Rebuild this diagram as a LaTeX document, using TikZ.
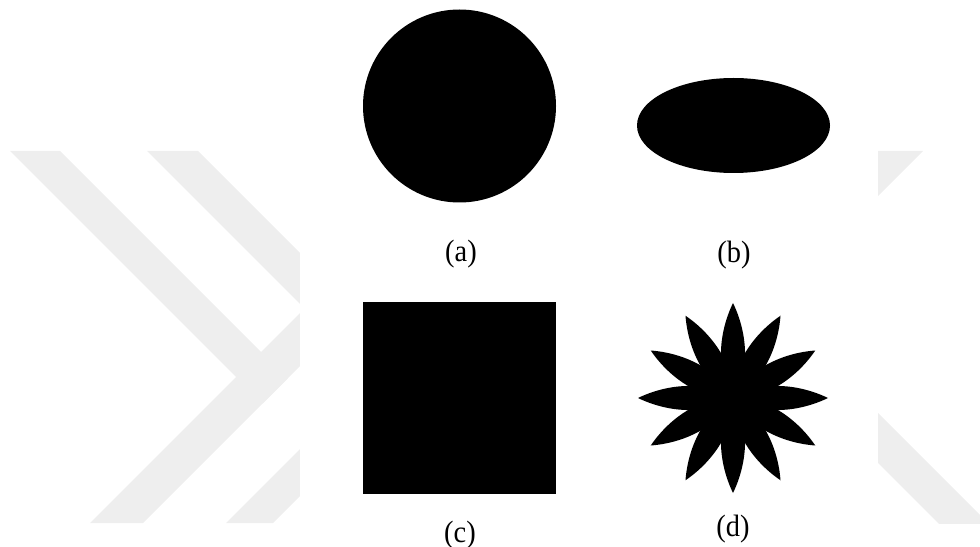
\documentclass[tikz,border=0pt]{standalone}
\usepackage{fontspec}
\setmainfont{Liberation Serif}
\definecolor{wm}{RGB}{238,238,238}
\tikzset{
  lbl/.style={anchor=base, inner sep=0pt, xscale=0.92, transform shape, font=\fontsize{31}{36}\selectfont},
  solid shape/.style={fill=black},
  band/.style={fill=wm}
}
\begin{document}
\begin{tikzpicture}[x=1bp,y=-1bp]
\useasboundingbox (0,0) rectangle (980,547);
% watermark bands
\begin{scope}
  \clip (0,151) rectangle (980,523);
  \fill[band] (10,151) -- (60,151) -- (287.5,378.5) -- (262.5,403.5) -- cycle;
  \fill[band] (90,523) -- (143,523) -- (320,346) -- (320,293) -- cycle;
  \fill[band] (147,151) -- (198,151) -- (320,273) -- (320,324) -- cycle;
  \fill[band] (226,523) -- (273,523) -- (320,476) -- (320,429) -- cycle;
  \fill[band] (873,151) -- (923,151) -- (800,274) -- (750,274) -- cycle;
  \fill[band] (850,385) -- (1050,585) -- (1050,635) -- (850,435) -- cycle;
\end{scope}
\fill[white] (300,0) rectangle (878,547);
% (a) circle
\fill[solid shape] (459.5,106) circle [radius=96.5];
% (b) ellipse
\fill[solid shape] (733.5,125.5) ellipse [x radius=96.5, y radius=47.5];
% (c) square
\fill[solid shape] (363,302) rectangle (556,494);
% (d) flower
\foreach \a in {0,30,...,330}
  \fill[solid shape, shift={(733,398)}, rotate=\a]
    (0,0) .. controls (28,18) and (66,14) .. (95,0)
          .. controls (66,-14) and (28,-18) .. (0,0) -- cycle;
\fill[solid shape] (733,398) circle [radius=20];
% labels
\node[lbl] (la) at (461,262) {(a)};
\node[lbl] (lb) at (734,263) {(b)};
\node[lbl] (lc) at (460,542) {(c)};
\node[lbl] (ld) at (733,536) {(d)};
\end{tikzpicture}
\end{document}
